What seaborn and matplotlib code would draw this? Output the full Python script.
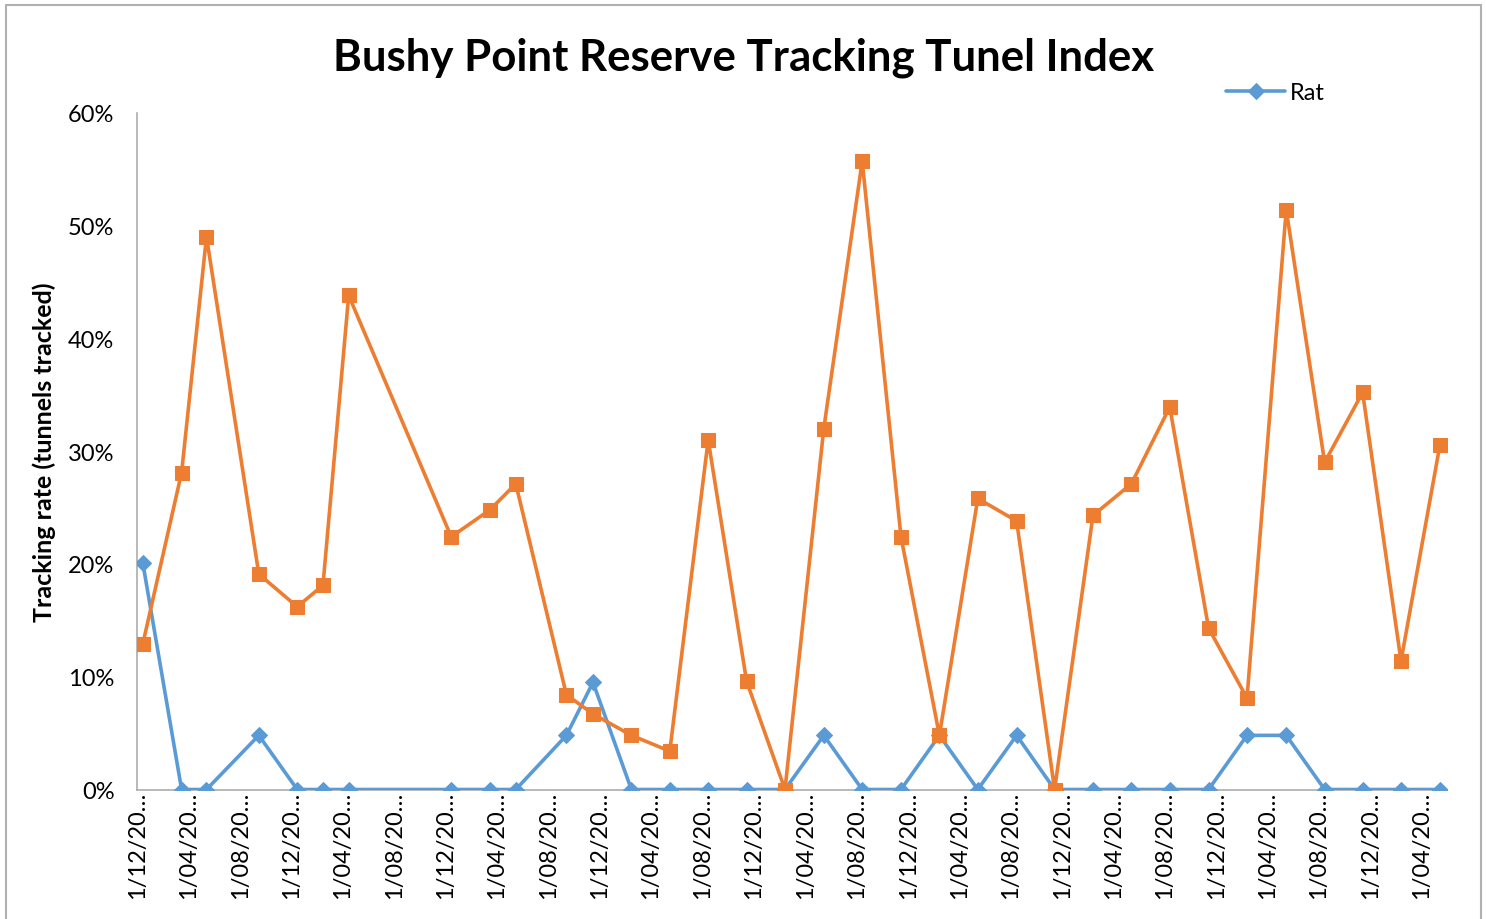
import numpy as np
import pandas as pd
import matplotlib
matplotlib.use("Agg")
import matplotlib.pyplot as plt
from matplotlib.lines import Line2D
from matplotlib.ticker import FuncFormatter, MultipleLocator
from matplotlib.transforms import ScaledTranslation
import seaborn as sns

# ---------------- data ----------------
survey_dates = [
    "2011-12-14", "2012-03-15", "2012-05-13", "2012-09-14", "2012-12-14",
    "2013-02-13", "2013-04-15", "2013-12-14", "2014-03-16", "2014-05-16",
    "2014-09-13", "2014-11-15", "2015-02-14", "2015-05-16", "2015-08-15",
    "2015-11-14", "2016-02-13", "2016-05-15", "2016-08-14", "2016-11-14",
    "2017-02-13", "2017-05-15", "2017-08-15", "2017-11-13", "2018-02-12",
    "2018-05-14", "2018-08-13", "2018-11-13", "2019-02-12", "2019-05-16",
    "2019-08-15", "2019-11-13", "2020-02-12", "2020-05-14",
]
rat = [
    20.1, 0, 0, 4.8, 0, 0, 0, 0, 0, 0,
    4.8, 9.5, 0, 0, 0, 0, 0, 4.8, 0, 0,
    4.8, 0, 4.8, 0, 0, 0, 0, 0, 4.8, 4.8,
    0, 0, 0, 0,
]
mouse = [
    12.9, 28.1, 49.0, 19.1, 16.2, 18.1, 43.8, 22.4, 24.8, 27.1,
    8.4, 6.7, 4.8, 3.4, 31.0, 9.6, 0.0, 32.0, 55.7, 22.4,
    4.8, 25.8, 23.8, 0.0, 24.3, 27.1, 33.9, 14.3, 8.1, 51.4,
    29.0, 35.2, 11.4, 30.5,
]
tick_dates = pd.date_range("2011-12-01", periods=26, freq="4MS")
tick_labels = [f"1/{d.month:02d}/20\u2026" for d in tick_dates]
title = "Bushy Point Reserve Tracking Tunel Index"
ylabel = "Tracking rate (tunnels tracked)"

df = pd.DataFrame({
    "date": pd.to_datetime(survey_dates),
    "Rat": np.array(rat) / 100.0,
    "Mouse": np.array(mouse) / 100.0,
})

# ---------------- style ----------------
sns.set_style("white")
plt.rcParams["font.family"] = ["Lato", "DejaVu Sans"]
plt.rcParams["text.color"] = "black"
plt.rcParams["axes.labelcolor"] = "black"

BLUE = "#5B9BD5"
ORANGE = "#ED7D31"
AXCOL = "#A6A6A6"

W, H = 1486, 920
fig = plt.figure(figsize=(W / 100, H / 100), dpi=100)
x0, x1, ytop, ybot = 137.3, 1447.0, 113.7, 790.5
ax = fig.add_axes([x0 / W, 1 - ybot / H, (x1 - x0) / W, (ybot - ytop) / H])

sns.lineplot(data=df, x="date", y="Rat", ax=ax, color=BLUE, linewidth=2.6,
             marker="D", markersize=8, markeredgecolor=BLUE, label="Rat", zorder=3)
sns.lineplot(data=df, x="date", y="Mouse", ax=ax, color=ORANGE, linewidth=2.6,
             marker="s", markersize=9.5, markeredgecolor=ORANGE, legend=False, zorder=4)

ax.set_ylim(0, 0.6)
ax.yaxis.set_major_locator(MultipleLocator(0.1))
ax.yaxis.set_major_formatter(FuncFormatter(lambda v, p: f"{v * 100:.0f}%"))
ax.set_xlim(pd.Timestamp("2011-12-01"), pd.Timestamp("2020-05-31"))
ax.set_xticks(tick_dates)
ax.set_xticklabels(tick_labels, rotation=90, ha="center", va="top")
off = ScaledTranslation(7 / 100, 0, fig.dpi_scale_trans)
for lbl in ax.get_xticklabels():
    lbl.set_transform(lbl.get_transform() + off)

for s in ["top", "right"]:
    ax.spines[s].set_visible(False)
for s in ["left", "bottom"]:
    ax.spines[s].set_color(AXCOL)
    ax.spines[s].set_linewidth(1.1)

ax.tick_params(axis="both", which="major", direction="out", length=5.5,
               width=1.0, color=AXCOL, labelsize=17, labelcolor="black")
ax.tick_params(axis="y", pad=11)
ax.tick_params(axis="x", pad=-4.5)
ax.set_xlabel("")
ax.set_ylabel(ylabel, fontsize=18, fontweight="bold")
ax.yaxis.set_label_coords((56 - x0) / (x1 - x0), 0.5)
ax.grid(False)

fig.text(744 / W, 1 - 58 / H, title, ha="center", va="center",
         fontsize=31.5, fontweight="bold", color="black")

handles, labels = ax.get_legend_handles_labels()
ax.legend(handles=handles[:1], labels=labels[:1], loc="center left",
          bbox_to_anchor=(1226 / W, 1 - 94 / H), bbox_transform=fig.transFigure,
          frameon=False, fontsize=17, handlelength=2.5, handletextpad=0.2,
          borderpad=0, borderaxespad=0)

# chart-area border
for xs, ys in [((6, 6), (0, 914)), ((6, 1481), (914, 914)), ((1481, 1481), (914, 0))]:
    fig.add_artist(Line2D([x / W for x in xs], [y / H for y in ys],
                          transform=fig.transFigure, color="#B0B0B0", linewidth=1.5))

fig.savefig("out.png", dpi=100)
